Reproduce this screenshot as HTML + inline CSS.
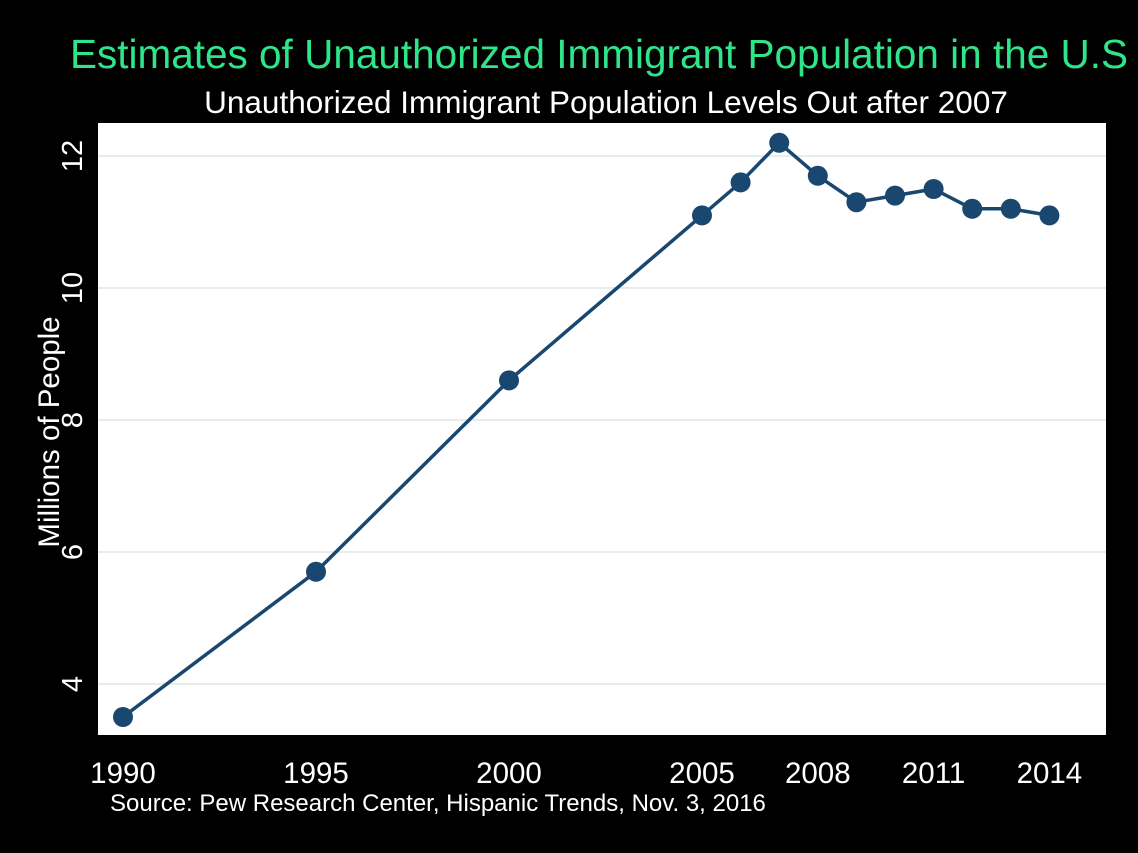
<!DOCTYPE html>
<html><head><meta charset="utf-8"><style>
html,body{margin:0;padding:0;background:#000;}
svg{display:block;font-family:"Liberation Sans",Arial,sans-serif;}
</style></head><body>
<svg id="chart" width="1138" height="853" viewBox="0 0 1138 853">
<rect x="0" y="0" width="1138" height="853" fill="#000"/>
<text x="599" y="68" text-anchor="middle" font-size="40.5" fill="#2ee58a">Estimates of Unauthorized Immigrant Population in the U.S</text>
<text x="606" y="113" text-anchor="middle" font-size="31.5" fill="#fff">Unauthorized Immigrant Population Levels Out after 2007</text>
<rect x="98" y="123" width="1008" height="612" fill="#fff"/>
<g id="grid"></g>
<g id="yticks"></g>
<g id="xticks"></g>
<text transform="translate(59,432) rotate(-90)" text-anchor="middle" font-size="29.5" fill="#fff">Millions of People</text>
<g id="series"></g>
<text x="110" y="811" font-size="24" fill="#fff">Source: Pew Research Center, Hispanic Trends, Nov. 3, 2016</text>
</svg>
<script>
const years=[1990,1995,2000,2005,2006,2007,2008,2009,2010,2011,2012,2013,2014];
const values=[3.5,5.7,8.6,11.1,11.6,12.2,11.7,11.3,11.4,11.5,11.2,11.2,11.1];
const yTickValues=[4,6,8,10,12];
const xTickValues=[1990,1995,2000,2005,2008,2011,2014];
const NS="http://www.w3.org/2000/svg";
function xs(yr){return 123+(yr-1990)*38.6;}
function ys(v){return 684-(v-4)*66;}
function mk(t,a,p){const e=document.createElementNS(NS,t);for(const k in a)e.setAttribute(k,a[k]);p.appendChild(e);return e;}
const grid=document.getElementById('grid'),yt=document.getElementById('yticks'),xt=document.getElementById('xticks'),se=document.getElementById('series');
yTickValues.forEach(v=>{
 const l=mk('line',{x1:98,x2:1106,y1:ys(v),y2:ys(v),stroke:'#e4eeee','stroke-width':2},grid);
 
 
 const t=mk('text',{transform:`translate(82,${ys(v)}) rotate(-90)`,'text-anchor':'middle','font-size':29,fill:'#fff'},yt);
 t.textContent=v;
 
 
});
xTickValues.forEach(v=>{
 const t=mk('text',{x:xs(v),y:783,'text-anchor':'middle','font-size':29.5,fill:'#fff'},xt);
 t.textContent=v;
 
 
});
const pl=mk('polyline',{points:years.map((y,i)=>xs(y)+','+ys(values[i])).join(' '),fill:'none',stroke:'#1a476f','stroke-width':3.5},se);


years.forEach((y,i)=>{
 const c=mk('circle',{cx:xs(y),cy:ys(values[i]),r:10,fill:'#1a476f'},se);
 
 
});
</script>
</body></html>
